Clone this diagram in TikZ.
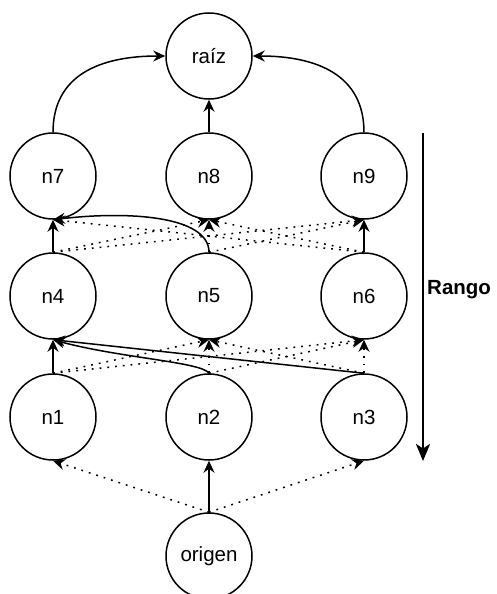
\documentclass[tikz,border=0pt]{standalone}
\usepackage{fontspec}
\setmainfont{Liberation Sans}
\usetikzlibrary{arrows.meta}
\begin{document}
\begin{tikzpicture}[x=1pt,y=-1pt,
  vertex/.style={circle,draw,line width=1.5pt,minimum size=86pt,inner sep=0pt,
    font=\fontsize{20.5}{24}\selectfont},
  link/.style={line width=1.5pt,-{Stealth[length=12pt,width=11pt,inset=4pt]}},
  weak/.style={link,dash pattern=on 1.8pt off 6pt},
  rankarrow/.style={line width=2.6pt,-{Stealth[length=17pt,width=14pt,inset=4.5pt]}}]
\useasboundingbox (0,0) rectangle (496,594);

% nodes, top row to bottom row
\node[vertex] (raiz) at (209,56) {raíz};
\node[vertex] (n7) at (53,176) {n7};
\node[vertex] (n8) at (209,176) {n8};
\node[vertex] (n9) at (364,176) {n9};
\node[vertex] (n4) at (53,296) {n4};
\node[vertex] (n5) at (209,296) {n5};
\node[vertex] (n6) at (364,296) {n6};
\node[vertex] (n1) at (53,417) {n1};
\node[vertex] (n2) at (209,417) {n2};
\node[vertex] (n3) at (364,417) {n3};
\node[vertex] (origen) at (209,556) {origen};

% origen -> first row
\draw[weak] (origen.north) -- (n1.south);
\draw[link] (origen.north) -- (n2.south);
\draw[weak] (origen.north) -- (n3.south);

% first row -> second row
\draw[weak] (n1.north) -- (n5.south);
\draw[weak] (n1.north) -- (n6.south);
\draw[weak] (n2.north) -- (n5.south);
\draw[weak] (n2.north) -- (n6.south);
\draw[weak] (n3.north) -- (n5.south);
\draw[weak] (n3.north) -- (n6.south);
\draw[link] (n1.north) -- (n4.south);
\draw[link] (n2.north) .. controls (202,362) and (120,358) .. (n4.south);
\draw[link] (n3.north) -- (n4.south);

% second row -> third row
\draw[weak] (n4.north) -- (n8.south);
\draw[weak] (n4.north) -- (n9.south);
\draw[weak] (n5.north) -- (n8.south);
\draw[weak] (n5.north) -- (n9.south);
\draw[weak] (n6.north) -- (n7.south);
\draw[weak] (n6.north) -- (n8.south);
\draw[link] (n4.north) -- (n7.south);
\draw[link] (n5.north) .. controls (209,215) and (125,211) .. (n7.south);
\draw[link] (n6.north) -- (n9.south);

% third row -> raíz
\draw[link] (n7.north) .. controls (53,75) and (100,56) .. (raiz.west);
\draw[link] (n8.north) -- (raiz.south);
\draw[link] (n9.north) .. controls (364,75) and (317,56) .. (raiz.east);

% rank axis
\coordinate (rtop) at (423,133);
\coordinate (rbot) at (423,461);
\draw[rankarrow] (rtop) -- (rbot);
\node[font=\fontsize{20.5}{24}\selectfont\bfseries,anchor=west,inner sep=0pt] (rango) at (427,290) {Rango};
\end{tikzpicture}
\end{document}
